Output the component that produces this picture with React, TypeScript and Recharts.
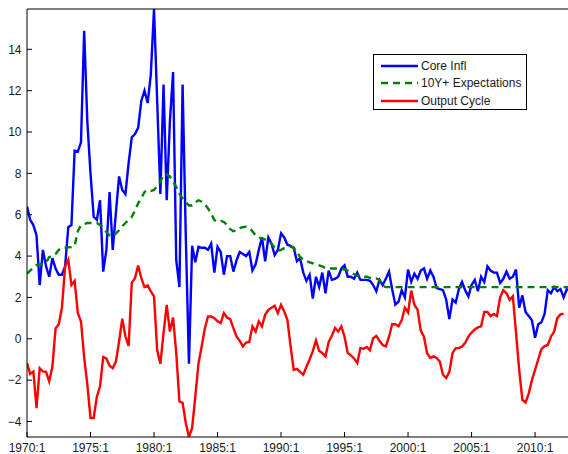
import { LineChart, Line, XAxis, YAxis, Legend } from "recharts";

// quarterly, 1970:1 .. 2012:4 (one row per year)
const coreInfl = [
  6.4, 5.75, 5.5, 5.0,
  2.6, 4.3, 3.5, 3.0,
  3.9, 3.4, 3.1, 3.1,
  3.5, 5.4, 5.5, 9.1,
  9.05, 9.5, 14.9, 10.5,
  8.0, 5.9, 5.75, 6.7,
  3.25, 4.3, 7.1, 4.3,
  6.1, 7.85, 7.2, 7.0,
  8.5, 9.75, 9.9, 10.2,
  11.5, 12.0, 11.4, 12.8,
  15.95, 11.5, 7.0, 12.3,
  6.7, 10.5, 12.9, 3.8,
  2.5, 12.3, 5.0, -1.2,
  4.5, 3.7, 4.45, 4.4,
  4.4, 4.3, 4.6, 3.2,
  4.45, 4.2, 3.1, 4.0,
  4.0, 3.25, 3.8, 4.2,
  4.1, 4.0, 4.2, 3.3,
  3.6, 4.3, 4.9, 3.75,
  4.9, 4.6, 4.05, 4.3,
  5.1, 4.9, 4.55, 4.5,
  4.4, 3.75, 3.9, 3.2,
  2.8, 3.1, 1.95, 3.0,
  2.5, 3.2, 2.2, 3.3,
  2.85, 2.9, 3.0, 3.4,
  3.55, 3.0, 3.0, 2.9,
  3.2, 2.85, 2.85, 2.85,
  2.8, 2.6, 2.3, 2.85,
  2.6, 2.9, 3.25, 2.4,
  1.65, 1.8, 2.35, 2.0,
  3.35, 2.75, 3.15, 2.9,
  3.3, 3.4, 2.9, 3.3,
  3.0, 2.45, 2.4, 2.35,
  1.9, 0.95, 1.9, 1.75,
  2.4, 2.75, 2.35, 2.05,
  2.6, 2.85, 2.3, 3.0,
  2.75, 3.5, 3.3, 3.2,
  3.2, 2.7, 2.9, 3.25,
  2.9, 3.0, 3.35, 1.5,
  2.1, 1.3, 1.1, 0.9,
  0.05, 0.7, 0.8, 1.2,
  2.35, 2.2, 2.5, 2.3,
  2.4, 2.0, 2.4, 2.3,
];

const expectations = [
  3.15, 3.3, 3.45, 3.57,
  3.6, 3.6, 3.7, 3.95,
  4.0, 4.1, 4.3, 4.4,
  4.4, 4.42, 4.43, 4.5,
  5.2, 5.5, 5.55, 5.6,
  5.6, 5.6, 5.6, 5.5,
  5.4, 5.15, 5.0, 4.95,
  5.1, 5.25, 5.45, 5.6,
  5.75, 5.9, 6.2, 6.55,
  6.8, 7.1, 7.2, 7.15,
  7.2, 7.4, 7.6, 7.95,
  7.95, 7.85, 7.6, 7.35,
  7.0, 6.8, 6.6, 6.45,
  6.45, 6.6, 6.7, 6.63,
  6.5, 6.3, 6.05, 5.75,
  5.65, 5.7, 5.65, 5.5,
  5.3, 5.2, 5.25, 5.35,
  5.4, 5.42, 5.35, 5.2,
  5.0, 4.9, 4.85, 4.8,
  4.72, 4.6, 4.4, 4.25,
  4.3, 4.38, 4.42, 4.46,
  4.4, 4.2, 3.95, 3.85,
  3.75, 3.7, 3.65, 3.6,
  3.55, 3.5, 3.42, 3.4,
  3.4, 3.4, 3.4, 3.38,
  3.35, 3.3, 3.2, 3.12,
  3.05, 3.0, 3.0, 3.0,
  2.95, 2.9, 2.92, 2.85,
  2.55, 2.5, 2.5, 2.5,
  2.5, 2.5, 2.5, 2.5,
  2.5, 2.5, 2.5, 2.5,
  2.5, 2.5, 2.5, 2.5,
  2.5, 2.5, 2.5, 2.5,
  2.5, 2.5, 2.5, 2.5,
  2.5, 2.5, 2.5, 2.5,
  2.5, 2.5, 2.5, 2.5,
  2.5, 2.5, 2.5, 2.5,
  2.5, 2.5, 2.5, 2.5,
  2.5, 2.5, 2.5, 2.5,
  2.5, 2.5, 2.5, 2.5,
  2.5, 2.5, 2.5, 2.5,
  2.5, 2.5, 2.5, 2.5,
  2.5, 2.5, 2.5, 2.5,
];

const outputCycle = [
  -1.17, -1.7, -1.58, -3.35,
  -1.42, -1.58, -1.6, -2.06,
  -1.34, 0.5, 0.7, 1.5,
  3.5, 3.82, 2.6, 2.8,
  1.25, 0.84, -0.9, -2.2,
  -3.83, -3.83, -2.8, -2.3,
  -0.88, -0.95, -1.3, -1.42,
  -1.1, -0.13, 0.97, 0.11,
  -0.34, 2.72, 2.93, 3.54,
  2.93, 2.5, 2.58, 2.29,
  2.05, -0.56, -1.21, 0.27,
  1.64, 0.35, 1.03, -0.69,
  -3.03, -3.1, -4.07, -4.75,
  -4.31, -2.8, -1.2, -0.37,
  0.5, 1.08, 1.08, 1.0,
  0.85, 0.76, 1.24, 1.03,
  0.95, 0.52, 0.1, -0.1,
  -0.37, -0.18, -0.15, 0.6,
  0.35, 0.84, 0.6, 1.16,
  1.4, 1.5, 1.6, 1.24,
  1.64, 1.32, 0.92, -0.37,
  -1.5, -1.45, -1.6, -1.74,
  -1.35, -1.0, -0.6, -0.08,
  -0.58, -0.69, -0.85, -0.15,
  0.15, 0.52, 0.35, 0.6,
  0.1, -0.69, -0.8, -0.95,
  -1.17, -0.45, -0.48, -0.4,
  -0.55, 0.03, 0.14, -0.1,
  -0.3, -0.37, 0.1, 0.7,
  0.7, 0.6, 0.9, 1.5,
  1.27, 2.33, 1.65, 1.4,
  0.4, 0.1, -0.7, -0.93,
  -0.85, -0.93, -1.1, -1.74,
  -1.9, -1.6, -0.7, -0.45,
  -0.45, -0.37, -0.2, 0.1,
  0.3, 0.45, 0.55, 0.6,
  1.3, 1.3, 1.1, 1.2,
  1.1, 2.0, 2.35, 2.2,
  1.88, 2.05, 0.3, -1.5,
  -2.95, -3.08, -2.65, -2.0,
  -1.5, -1.0, -0.5, -0.35,
  -0.3, 0.1, 0.35, 1.0,
  1.18, 1.22, null, null,
];

const seriesNames = ["Core Infl", "10Y+ Expectations", "Output Cycle"];
const xTicks = [0, 20, 40, 60, 80, 100, 120, 140, 160];
const xTickLabels = ["1970:1", "1975:1", "1980:1", "1985:1", "1990:1", "1995:1", "2000:1", "2005:1", "2010:1"];
const yTicks = [-4, -2, 0, 2, 4, 6, 8, 10, 12, 14];

const data = coreInfl.map((v, i) => ({
  i,
  core: v,
  expect: expectations[i],
  cycle: outputCycle[i],
}));

const FONT = '"Liberation Sans", Arial, Helvetica, sans-serif';
const tickStyle = { fill: "#1a1a1a", fontSize: 12, fontFamily: FONT };
const axisStroke = { stroke: "#000", strokeWidth: 1 };

function LegendBox({ payload }: any) {
  // keep plotting order, not alphabetical
  const items = [...(payload ?? [])].sort(
    (a: any, b: any) => seriesNames.indexOf(a.value) - seriesNames.indexOf(b.value)
  );
  return (
    <div
      style={{
        width: 154,
        height: 56,
        boxSizing: "border-box",
        border: "1px solid #000",
        background: "#fff",
        position: "relative",
        fontFamily: FONT,
        fontSize: 12,
        color: "#1a1a1a",
      }}
    >
      {items.map((entry: any, k: number) => (
        <div
          key={entry.value}
          style={{
            position: "absolute",
            left: 7,
            top: 2 + k * 17.5,
            height: 17.5,
            display: "flex",
            alignItems: "center",
            whiteSpace: "nowrap",
          }}
        >
          <svg width={37} height={4} style={{ marginRight: 3 }}>
            <line
              x1={0}
              y1={2}
              x2={37}
              y2={2}
              stroke={entry.color}
              strokeWidth={2.4}
              strokeDasharray={entry.payload?.strokeDasharray}
            />
          </svg>
          <span>{entry.value}</span>
        </div>
      ))}
    </div>
  );
}

export default function App() {
  return (
    <div style={{ position: "absolute", left: 0, top: 0, width: 568, height: 454, overflow: "hidden", background: "#fff" }}>
      <LineChart width={571} height={454} data={data} margin={{ top: 8, right: 0, bottom: 0, left: 0 }}>
        <XAxis
          xAxisId="b"
          dataKey="i"
          type="number"
          domain={[0, 171]}
          allowDataOverflow
          ticks={xTicks}
          tickFormatter={(v: number) => xTickLabels[xTicks.indexOf(v)] ?? ""}
          interval={0}
          height={17}
          tickSize={-5}
          tickMargin={11}
          tick={tickStyle}
          axisLine={axisStroke}
          tickLine={axisStroke}
        />
        <XAxis
          xAxisId="t"
          orientation="top"
          dataKey="i"
          type="number"
          domain={[0, 171]}
          allowDataOverflow
          ticks={xTicks}
          interval={0}
          height={1}
          tickSize={-5}
          tick={false}
          axisLine={axisStroke}
          tickLine={axisStroke}
        />
        <YAxis
          yAxisId="l"
          type="number"
          domain={[-4.75, 15.95]}
          allowDataOverflow
          ticks={yTicks}
          interval={0}
          width={27}
          tickSize={-5}
          tickMargin={10.5}
          tickFormatter={(v: number) => (v < 0 ? `\u2212${-v}` : `${v}`)}
          tick={tickStyle}
          axisLine={axisStroke}
          tickLine={axisStroke}
        />
        <YAxis
          yAxisId="r"
          orientation="right"
          type="number"
          domain={[-4.75, 15.95]}
          allowDataOverflow
          ticks={yTicks}
          interval={0}
          width={1}
          tickSize={-5}
          tick={false}
          axisLine={axisStroke}
          tickLine={axisStroke}
        />
        <Legend
          layout="vertical"
          align="center"
          verticalAlign="middle"
          content={<LegendBox />}
          wrapperStyle={{ left: 373, top: 54, width: 154, height: 56 }}
        />
        <Line
          xAxisId="b"
          yAxisId="l"
          type="linear"
          dataKey="core"
          name="Core Infl"
          stroke="#0000ff"
          strokeWidth={2.4}
          dot={false}
          activeDot={false}
          isAnimationActive={false}
        />
        <Line
          xAxisId="b"
          yAxisId="l"
          type="linear"
          dataKey="expect"
          name="10Y+ Expectations"
          stroke="#008000"
          strokeWidth={2.4}
          strokeDasharray="7 5"
          dot={false}
          activeDot={false}
          isAnimationActive={false}
        />
        <Line
          xAxisId="b"
          yAxisId="l"
          type="linear"
          dataKey="cycle"
          name="Output Cycle"
          stroke="#ff0000"
          strokeWidth={2.4}
          dot={false}
          activeDot={false}
          isAnimationActive={false}
        />
      </LineChart>
    </div>
  );
}
